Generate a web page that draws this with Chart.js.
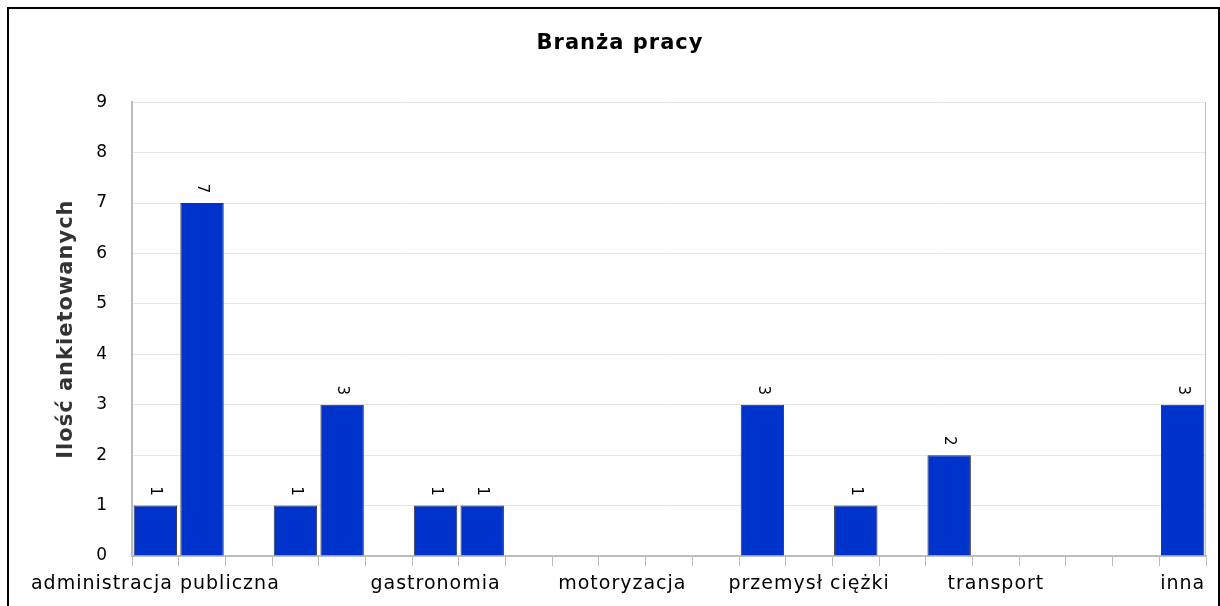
<!DOCTYPE html>
<html>
<head>
<meta charset="utf-8">
<script src="https://cdn.jsdelivr.net/npm/chart.js@4.4.1/dist/chart.umd.min.js"></script>
<style>
html,body{margin:0;padding:0;background:#fff;}
#wrap{position:relative;width:1220px;height:606px;overflow:hidden;}
#ramka{position:absolute;left:7px;top:7px;width:1209px;height:620px;border:2px solid #000;pointer-events:none;}
canvas{position:absolute;left:0;top:0;}
</style>
</head>
<body>
<div id="wrap"><canvas id="cBranza" width="1220" height="606"></canvas><div id="ramka"></div></div>
<script>
// ── dane z ankiety ──
var tytul='Branża pracy';
var tytulY='Ilość ankietowanych';
var kategorie=['administracja publiczna','','','','','','gastronomia','','','','motoryzacja','','','','przemysł ciężki','','','','transport','','','','inna'];
var ilosc=[1,7,null,1,3,null,1,1,null,null,null,null,null,3,null,1,null,2,null,null,null,null,3];
var yMin=0,yMax=9,yKrok=1;

var KOL_OS='#bdbdbd',KOL_SIATKA='#e6e6e6';

/* odstęp liter jak w oryginale */
var odstep={id:'odstep',beforeDraw:function(ch){ch.ctx.letterSpacing='1px';}};

/* ramka prawa obszaru wykresu */
var prawaKrawedz={id:'prawaKrawedz',afterDraw:function(ch){
  var a=ch.chartArea,ctx=ch.ctx;
  ctx.save();ctx.strokeStyle=KOL_OS;ctx.lineWidth=1;
  ctx.beginPath();ctx.moveTo(Math.round(a.right)-0.5,a.top);ctx.lineTo(Math.round(a.right)-0.5,a.bottom);ctx.stroke();
  ctx.restore();
}};

/* wartości nad słupkami, obrócone */
var etykiety={id:'etykiety',afterDatasetsDraw:function(ch){
  var ctx=ch.ctx,meta=ch.getDatasetMeta(0);
  ctx.save();
  ctx.font='15px "DejaVu Sans"';ctx.fillStyle='#000';ctx.textAlign='center';ctx.textBaseline='middle';
  meta.data.forEach(function(b,i){
    var v=ilosc[i];if(v==null)return;
    ctx.save();ctx.translate(b.x,b.y-14);ctx.rotate(Math.PI/2);ctx.fillText(String(v),0,0);ctx.restore();
  });
  ctx.restore();
}};

new Chart(document.getElementById('cBranza'),{
  type:'bar',
  data:{labels:kategorie,datasets:[{label:tytulY,data:ilosc,backgroundColor:'#0033cc',borderColor:'#333333',borderWidth:1,barPercentage:0.93,categoryPercentage:1}]},
  options:{
    responsive:false,animation:false,devicePixelRatio:1,
    layout:{padding:{left:34,right:14,top:0,bottom:0}},
    plugins:{
      legend:{display:false},tooltip:{enabled:false},
      title:{display:true,text:tytul,color:'#000',font:{family:'DejaVu Sans',size:21,weight:'bold'},padding:{top:31,bottom:46}}
    },
    scales:{
      x:{
        offset:true,
        grid:{offset:true,drawOnChartArea:false,drawTicks:true,tickLength:10,color:KOL_OS},
        border:{display:true,color:KOL_OS,width:2},
        ticks:{autoSkip:false,maxRotation:0,minRotation:0,padding:7,color:'#000',font:{family:'DejaVu Sans',size:19}},
        afterFit:function(s){s.height=50;}
      },
      y:{
        min:yMin,max:yMax,
        grid:{color:KOL_SIATKA,drawTicks:false},
        border:{display:true,color:KOL_OS,width:2},
        ticks:{stepSize:yKrok,padding:24,color:'#000',font:{family:'DejaVu Sans',size:17}},
        title:{display:true,text:tytulY,color:'#333',font:{family:'DejaVu Sans',size:21,weight:'bold'},padding:{top:20,bottom:0}},
        afterFit:function(s){s.width=98;}
      }
    }
  },
  plugins:[odstep,prawaKrawedz,etykiety]
});
</script>
</body>
</html>
